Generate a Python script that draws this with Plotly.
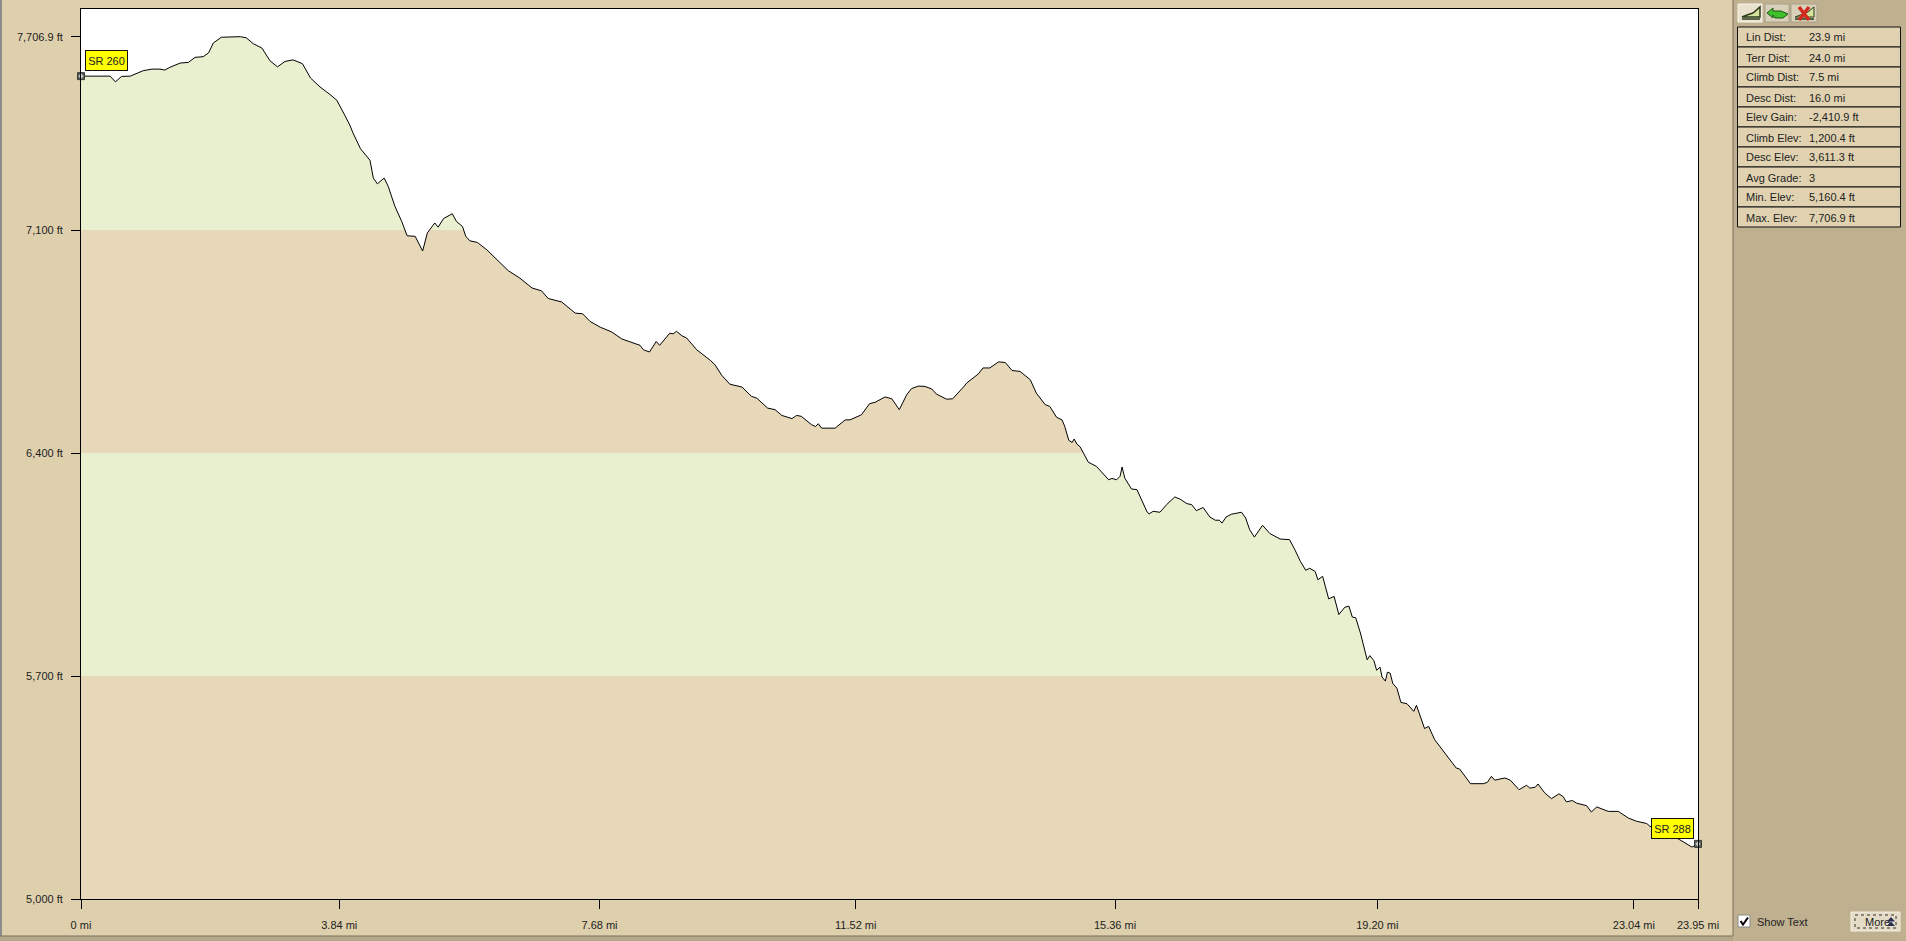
import plotly.graph_objects as go

miles = [0.00,0.43,0.51,0.60,0.73,0.83,0.92,1.05,1.17,1.24,1.32,1.47,1.59,1.69,1.81,1.89,1.96,2.08,2.26,2.36,2.45,2.55,2.68,2.80,2.91,3.02,3.14,3.28,3.40,3.54,3.69,3.79,3.89,3.98,4.03,4.14,4.28,4.33,4.39,4.49,4.55,4.65,4.75,4.83,4.95,5.06,5.13,5.24,5.29,5.37,5.50,5.56,5.65,
5.70,5.76,5.87,6.01,6.16,6.33,6.50,6.68,6.82,6.92,7.12,7.32,7.43,7.54,7.69,7.86,8.01,8.16,8.28,8.33,8.42,8.52,8.57,8.72,8.77,8.82,8.90,8.97,9.12,9.32,9.39,9.49,9.61,9.79,9.93,10.01,10.17,10.28,10.38,10.53,10.60,10.67,10.82,10.88,10.92,10.97,11.17,11.32,11.39,11.56,11.68,11.76,11.91,12.01,12.12,
12.23,12.30,12.40,12.50,12.60,12.67,12.82,12.91,13.07,13.12,13.29,13.36,13.46,13.59,13.69,13.79,13.91,14.06,14.15,14.28,14.35,14.45,14.53,14.57,14.63,14.68,14.71,14.75,14.80,14.92,15.04,15.22,15.27,15.34,15.39,15.42,15.46,15.56,15.64,15.79,15.82,15.88,15.98,16.08,16.20,16.28,16.38,16.45,16.52,16.62,16.72,16.80,16.86,16.90,16.96,17.04,17.19,17.25,17.31,17.38,17.50,17.61,17.76,17.90,17.98,18.06,18.14,18.20,18.28,18.32,18.39,18.43,18.48,18.56,
18.63,18.72,18.78,18.83,18.88,18.95,19.05,19.09,19.15,19.19,19.24,19.27,19.32,19.35,19.39,19.43,19.49,19.55,19.64,19.74,19.78,19.90,19.96,20.05,20.25,20.37,20.42,20.58,20.77,20.83,20.89,20.94,21.09,21.17,21.30,21.41,21.46,21.54,21.58,21.68,21.78,21.89,21.95,22.00,22.09,22.15,22.30,22.37,22.45,22.62,22.77,22.92,23.04,23.19,23.24,23.49,23.68,23.86,23.95]
elevation_ft = [7583,7583,7565,7582,7583,7591,7600,7605,7605,7602,7611,7624,7626,7642,7644,7656,7687,7705,7706,7706.9,7703,7685,7671,7631,7612,7629,7634,7622,7577,7549,7525,7507,7467,7430,7404,7355,7319,7263,7245,7263,7237,7174,7127,7082,7080,7034,7091,7122,7109,7136,7151,7127,7111,
7080,7066,7061,7038,7007,6972,6949,6918,6909,6885,6874,6839,6837,6813,6795,6780,6758,6748,6738,6724,6717,6750,6738,6776,6774,6782,6768,6761,6724,6691,6677,6644,6616,6607,6578,6572,6541,6536,6518,6508,6518,6515,6489,6483,6492,6478,6478,6504,6504,6520,6555,6559,6576,6570,6536,
6583,6602,6610,6609,6601,6585,6569,6570,6607,6620,6648,6667,6667,6686,6684,6659,6656,6630,6588,6552,6546,6512,6504,6484,6440,6433,6444,6428,6419,6371,6358,6316,6320,6316,6327,6356,6321,6287,6285,6215,6209,6217,6214,6238,6262,6255,6241,6238,6219,6229,6199,6189,6189,6180,6199,6208,6214,6196,6159,6136,6173,6147,6130,6128,6096,6060,6032,6038,6028,6002,6013,5981,5942,5950,
5893,5916,5919,5885,5883,5835,5751,5764,5748,5718,5728,5697,5684,5712,5709,5676,5662,5617,5613,5589,5608,5535,5542,5500,5443,5411,5408,5362,5362,5366,5385,5373,5380,5373,5343,5357,5348,5351,5361,5333,5315,5330,5322,5305,5309,5301,5293,5273,5289,5275,5275,5254,5244,5237,5228,5207,5186,5163,5173]

x_end = 23.95
x_ticks = [0,3.825,7.68,11.475,15.315,19.20,23.00,23.95]
x_tick_labels = ["0 mi","3.84 mi","7.68 mi","11.52 mi","15.36 mi","19.20 mi","23.04 mi","23.95 mi"]
y_ticks = [5000,5700,6400,7100,7706.9]
y_tick_labels = ["5,000 ft","5,700 ft","6,400 ft","7,100 ft","7,706.9 ft"]
band_edges = [5000,5700,6400,7100]
stat_labels = ["Lin Dist:","Terr Dist:","Climb Dist:","Desc Dist:","Elev Gain:","Climb Elev:","Desc Elev:","Avg Grade:","Min. Elev:","Max. Elev:"]
stat_values = ["23.9 mi","24.0 mi","7.5 mi","16.0 mi","-2,410.9 ft","1,200.4 ft","3,611.3 ft","3","5,160.4 ft","7,706.9 ft"]
waypoint_names = ["SR 260","SR 288"]

W, H = 1906, 941
L, R, T, B = 81, 1698, 9, 899
Y_TOP = 5000 + (B - T) * 3.139
TAN, GREEN, FRAME, PANEL = "#E7D8BA", "#E8F0D0", "#DED0AD", "#BFB08F"
FONT = "Liberation Sans"

px = lambda x: (x - L) / (R - L)
py = lambda y: (B - y) / (B - T)

shapes, notes = [], []
def box(x0, y0, x1, y1, fill, line=None, width=1, layer="below", dash=None):
    shapes.append(dict(type="rect", xref="paper", yref="paper", x0=px(x0), x1=px(x1), y0=py(y0), y1=py(y1),
                       fillcolor=fill, layer=layer,
                       line=dict(color=line or "rgba(0,0,0,0)", width=width if line else 0, dash=dash)))
def path(points, fill=None, line=None, width=1, layer="above"):
    d = "M" + " L".join(f"{px(a):.5f},{py(b):.5f}" for a, b in points)
    if fill: d += " Z"
    shapes.append(dict(type="path", xref="paper", yref="paper", path=d, layer=layer,
                       fillcolor=fill or "rgba(0,0,0,0)",
                       line=dict(color=line or "rgba(0,0,0,0)", width=width if line else 0)))
def text(x, y, s, size=11, color="#222222", anchor="left"):
    notes.append(dict(xref="paper", yref="paper", x=px(x), y=py(y), text=s, showarrow=False, xanchor=anchor,
                      yanchor="middle", font=dict(family=FONT, size=size, color=color)))

# window furniture
box(0, 0, 2, 941, "#8C8C8C")
box(0, 936, 1733, 941, "#B5A88A")
box(1733, 0, 1906, 941, PANEL)
shapes.append(dict(type="line", xref="paper", yref="paper", x0=px(1733), x1=px(1733), y0=py(0), y1=py(936),
                   line=dict(color="#7A6F58", width=1), layer="below"))
shapes.append(dict(type="line", xref="paper", yref="paper", x0=px(0), x1=px(1733), y0=py(936), y1=py(936),
                   line=dict(color="#7A6F58", width=1), layer="below"))

# elevation bands
for i, lo in enumerate(band_edges):
    shapes.append(dict(type="rect", xref="x", yref="y", x0=0, x1=x_end, y0=lo,
                       y1=band_edges[i + 1] if i + 1 < len(band_edges) else Y_TOP,
                       fillcolor=GREEN if i % 2 else TAN, line=dict(width=0), layer="below"))

# stat table
for i, (a, b) in enumerate(zip(stat_labels, stat_values)):
    y0 = 27 + 20 * i
    box(1737.5, y0, 1900.5, y0 + 20, "#E0D2B0", "#111111", 1)
    text(1744, y0 + 10.5, a)
    text(1807, y0 + 10.5, b)

# toolbar buttons
box(1738, 4, 1762, 22, "#E8E2CE", "#F8F6EC", 1)
path([(1742, 17), (1747, 15), (1753, 13), (1760, 7), (1760, 17)], fill="#D5E39C", line="#2E3B1C", width=1.5)
path([(1742, 19), (1760, 19)], line="#2E3B1C", width=1.5)
box(1765, 4, 1789, 22, "#D8D0B8", "#A8A08A", 1)
path([(1767, 13), (1773, 8), (1773, 11), (1781, 11), (1788, 14), (1783, 18), (1775, 18), (1773, 15), (1773, 18)],
     fill="#3FBF2A", line="#1A5A14", width=1)
box(1791, 4, 1817, 22, "#D8D0B8", "#A8A08A", 1)
path([(1795, 17), (1803, 14), (1808, 12), (1814, 7), (1814, 17)], fill="#D5E39C", line="#2E3B1C", width=1)
path([(1795, 19), (1814, 19)], line="#2E3B1C", width=1.5)
path([(1799, 7), (1809, 20)], line="#D22A1E", width=3.5)
path([(1809, 7), (1799, 20)], line="#D22A1E", width=3.5)

# checkbox and More button
box(1738, 915, 1750, 927, "#FFFFFF", "#888888", 1)
path([(1740.5, 921), (1743, 924.5), (1748, 917.5)], line="#000000", width=2)
text(1755, 922, "Show Text")
box(1851, 912, 1900, 931, "#E4DCC6", "#F4EFE2", 1)
box(1855, 915, 1896, 928, "rgba(0,0,0,0)", "#333333", 1, dash="dot")
text(1863, 922, "More")
path([(1887, 921.5), (1891, 917), (1895, 921.5)], fill="#2A2F55")
path([(1887, 926), (1891, 921.5), (1895, 926)], fill="#2A2F55")

fig = go.Figure()
fig.add_trace(go.Scatter(x=[0, x_end], y=[Y_TOP, Y_TOP], mode="lines", line=dict(width=0),
                         hoverinfo="skip", showlegend=False))
fig.add_trace(go.Scatter(x=miles, y=elevation_ft, mode="lines", fill="tonexty", fillcolor="#FFFFFF",
                         line=dict(color="#000000", width=1), showlegend=False))
ends_x, ends_y = [miles[0], miles[-1]], [elevation_ft[0], elevation_ft[-1]]
fig.add_trace(go.Scatter(x=ends_x, y=ends_y, mode="markers",
                         marker=dict(symbol="square", size=7, color="#5A5F5E", line=dict(color="#3A3A3A", width=1)),
                         cliponaxis=False, showlegend=False))
fig.add_trace(go.Scatter(x=ends_x, y=ends_y, mode="markers",
                         marker=dict(symbol="diamond", size=4, color="#C8CCC8", line=dict(width=0)),
                         cliponaxis=False, showlegend=False))

label_pos = [(0.378, 7633), (23.57, 5222)]
for name, (lx, ly) in zip(waypoint_names, label_pos):
    notes.append(dict(x=lx, y=ly, xref="x", yref="y", text=name, showarrow=False, bgcolor="#FFFF00",
                      bordercolor="#111111", borderwidth=1, borderpad=0, width=41, height=19,
                      font=dict(family=FONT, size=11, color="#222222")))

fig.update_layout(
    width=W, height=H, margin=dict(l=L, r=W - R, t=T, b=H - B, autoexpand=False),
    paper_bgcolor=FRAME, plot_bgcolor=TAN, showlegend=False,
    font=dict(family=FONT, size=11, color="#222222"),
    shapes=shapes, annotations=notes,
    xaxis=dict(range=[0, x_end], tickvals=x_ticks, ticktext=x_tick_labels, ticks="outside", ticklen=9,
               tickcolor="#000000", tickwidth=1, ticklabelstandoff=7, showgrid=False, zeroline=False,
               showline=True, linecolor="#000000", linewidth=1, mirror=True, layer="above traces",
               tickfont=dict(family=FONT, size=11, color="#222222")),
    yaxis=dict(range=[5000, Y_TOP], tickvals=y_ticks, ticktext=y_tick_labels, ticks="outside", ticklen=9,
               tickcolor="#000000", tickwidth=1, ticklabelstandoff=6, showgrid=False, zeroline=False,
               showline=True, linecolor="#000000", linewidth=1, mirror=True, layer="above traces",
               tickfont=dict(family=FONT, size=11, color="#222222")),
)
fig.write_html("out.html", config=dict(displayModeBar=False),
               post_script="document.body.style.margin='0';document.body.style.overflow='hidden';")
